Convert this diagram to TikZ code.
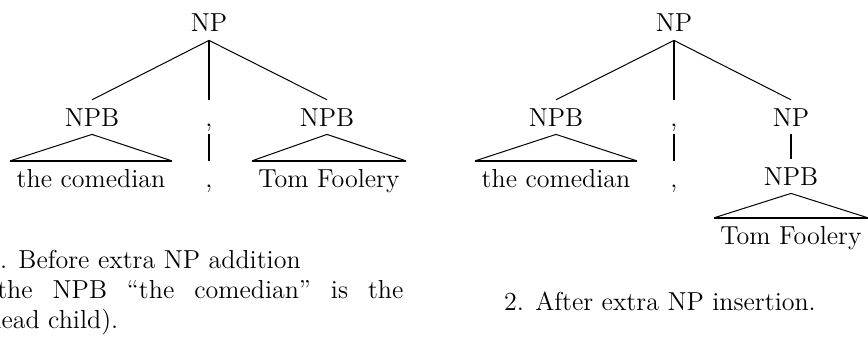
\documentclass[tikz,border=0pt]{standalone}
\tikzset{
  lbl/.style={inner xsep=1pt, inner ysep=4pt, anchor=base, text height=8.9pt, text depth=0pt,
    font=\fontsize{13}{15}\selectfont},
  leaf/.style={lbl, inner xsep=3pt},
  captxt/.style={inner sep=0pt, font=\fontsize{13}{15}\selectfont},
  branch/.style={line width=0.5pt},
  stem/.style={line width=0.9pt},
  roofbase/.style={line width=1pt},
}
\begin{document}
\begin{tikzpicture}[x=0.5pt,y=-0.5pt]
\useasboundingbox (0,0) rectangle (868,348);
% tree 1: before
\node[lbl] (np1)  at (209,32)  {NP};
\node[lbl] (npbA) at (92,126)  {NPB};
\node[lbl] (cmA)  at (209,126) {,};
\node[lbl] (npbB) at (327,126) {NPB};
\node[leaf] (wdA) at (91,187)  {the comedian};
\node[lbl] (cmA2) at (209,187) {,};
\node[leaf] (wdB) at (329,187) {Tom Foolery};
\draw[branch] (np1.south) -- (npbA.north);
\draw[branch] (np1.south) -- (npbB.north);
\draw[stem] (np1.south) -- (cmA.north);
\draw[stem] (cmA.south) -- (cmA2.north);
\draw[branch] (wdA.north west) -- (npbA.south) -- (wdA.north east);
\draw[roofbase] (wdA.north west) -- (wdA.north east);
\draw[branch] (wdB.north west) -- (npbB.south) -- (wdB.north east);
\draw[roofbase] (wdB.north west) -- (wdB.north east);
% tree 2: after
\node[lbl] (np2)  at (674,32)  {NP};
\node[lbl] (npbC) at (556,126) {NPB};
\node[lbl] (cmB)  at (674,126) {,};
\node[lbl] (npX)  at (791,126) {NP};
\node[lbl] (npbD) at (791,185) {NPB};
\node[leaf] (wdC) at (556,187) {the comedian};
\node[lbl] (cmB2) at (674,187) {,};
\node[leaf] (wdD) at (791,244) {Tom Foolery};
\draw[branch] (np2.south) -- (npbC.north);
\draw[branch] (np2.south) -- (npX.north);
\draw[stem] (np2.south) -- (cmB.north);
\draw[stem] (cmB.south) -- (cmB2.north);
\draw[stem] (npX.south) -- (npbD.north);
\draw[branch] (wdC.north west) -- (npbC.south) -- (wdC.north east);
\draw[roofbase] (wdC.north west) -- (wdC.north east);
\draw[branch] (wdD.north west) -- (npbD.south) -- (wdD.north east);
\draw[roofbase] (wdD.north west) -- (wdD.north east);
% captions
\node[captxt, anchor=north west, text width=208pt, align=justify] (capA) at (-13,250)
  {1. Before extra NP addition\\ (the NPB ``the comedian'' is the\linebreak head child).};
\node[captxt, anchor=base] (capB) at (660,310) {2. After extra NP insertion.};
\end{tikzpicture}
\end{document}
